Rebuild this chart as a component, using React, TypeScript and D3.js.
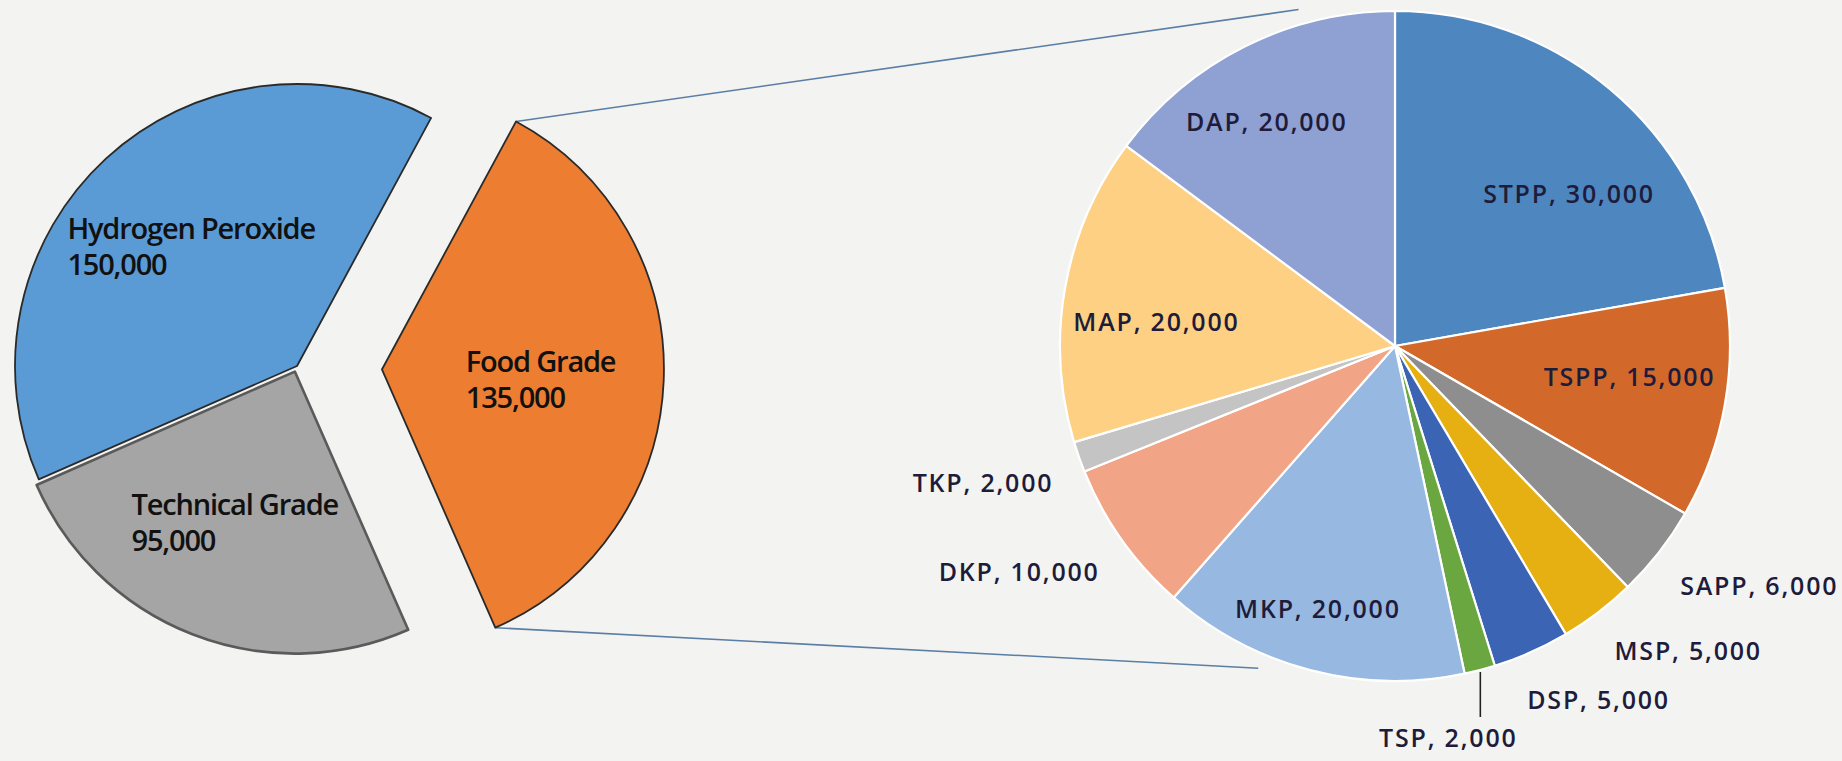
import React from "react";
import * as d3 from "d3";

// ---- data ----
const mainCategories = ["Food Grade", "Technical Grade", "Hydrogen Peroxide"];
const mainValues = [135000, 95000, 150000];
const mainColors = ["#ed7d31", "#a5a5a5", "#5b9bd5"];

const subCategories = ["STPP", "TSPP", "SAPP", "MSP", "DSP", "TSP", "MKP", "DKP", "TKP", "MAP", "DAP"];
const subValues = [30000, 15000, 6000, 5000, 5000, 2000, 20000, 10000, 2000, 20000, 20000];
const subColors = ["#4e86c0", "#d2692a", "#8e8e8e", "#e6b012", "#3c64b4", "#6aa740", "#97b8e0", "#f1a586", "#c4c4c4", "#fdd083", "#8fa0d3"];

// ---- layout ----
const W = 1842, H = 761;
const deg = Math.PI / 180;
const mainC = { x: 297, y: 366 };
const mainR = 282;
const mainStart = 28.4 * deg;
const explode: Record<string, number> = { "Food Grade": 85, "Technical Grade": 6, "Hydrogen Peroxide": 0 };
const mainLabelNudge: Record<string, [number, number]> = {
  "Hydrogen Peroxide": [-134, -23],
  "Technical Grade": [-112, 12],
  "Food Grade": [-57, -3],
};
const subC = { x: 1395, y: 346 };
const subR = 335;
const insideSet = new Set(["STPP", "TSPP", "MKP", "MAP", "DAP"]);
const insideNudge: Record<string, [number, number]> = {
  STPP: [19, 42], TSPP: [-3, -2], MKP: [-16, 39], MAP: [-1, 27], DAP: [-20, 1],
};
const outsideNudge: Record<string, [number, number]> = { DSP: [-15, 6] };

const polar = (cx: number, cy: number, a: number, r: number): [number, number] => [
  cx + r * Math.sin(a),
  cy - r * Math.cos(a),
];
const fmt = d3.format(",");

export default function App() {
  const mainPie = d3
    .pie<number>()
    .sort(null)
    .startAngle(mainStart)
    .endAngle(mainStart + 2 * Math.PI)(mainValues);
  const mainArc = d3.arc<d3.PieArcDatum<number>>().innerRadius(0).outerRadius(mainR);

  const subPie = d3.pie<number>().sort(null).startAngle(0).endAngle(2 * Math.PI)(subValues);
  const subArc = d3.arc<d3.PieArcDatum<number>>().innerRadius(0).outerRadius(subR);

  const mainSlices = mainPie.map((d, i) => {
    const name = mainCategories[i];
    const mid = (d.startAngle + d.endAngle) / 2;
    const [ox, oy] = polar(0, 0, mid, explode[name]);
    return { d, i, name, ox, oy, mid };
  });

  const food = mainSlices[0];
  const fcx = mainC.x + food.ox, fcy = mainC.y + food.oy;
  const topStart = polar(fcx, fcy, food.d.startAngle, mainR);
  const botStart = polar(fcx, fcy, food.d.endAngle, mainR);
  const topEnd = polar(subC.x, subC.y, -16 * deg, subR + 15);
  const botEnd = polar(subC.x, subC.y, 203 * deg, subR + 15);

  const labelFont = "'Open Sans', 'Noto Sans', sans-serif";

  return (
    <svg width={W} height={H} style={{ position: "fixed", left: 0, top: 0 }} xmlns="http://www.w3.org/2000/svg">
      <rect x={0} y={0} width={W} height={H} fill="#f3f3f1" />

      {/* connector lines */}
      <line x1={topStart[0]} y1={topStart[1]} x2={topEnd[0]} y2={topEnd[1]} stroke="#5a7ea6" strokeWidth={1.6} />
      <line x1={botStart[0]} y1={botStart[1]} x2={botEnd[0]} y2={botEnd[1]} stroke="#5a7ea6" strokeWidth={1.6} />

      {/* main pie */}
      <g transform={`translate(${mainC.x},${mainC.y})`}>
        {mainSlices.map((s) => (
          <path
            key={s.name}
            d={mainArc(s.d) || ""}
            transform={`translate(${s.ox},${s.oy})`}
            fill={mainColors[s.i]}
            stroke={s.name === "Technical Grade" ? "#5a5a5a" : "#2a2a2a"}
            strokeWidth={s.name === "Technical Grade" ? 2.6 : 1.8}
            strokeLinejoin="round"
          />
        ))}
      </g>
      {mainSlices.map((s) => {
        const c = mainArc.centroid(s.d);
        const nx = mainLabelNudge[s.name][0];
        const ny = mainLabelNudge[s.name][1];
        const x = mainC.x + s.ox + c[0] + nx;
        const y = mainC.y + s.oy + c[1] + ny;
        return (
          <text key={s.name} x={x} y={y} fontFamily={labelFont} fontWeight={600} fontSize={29} letterSpacing={-1.2} fill="#111">
            <tspan x={x} y={y}>{s.name}</tspan>
            <tspan x={x} y={y + 36}>{fmt(mainValues[s.i])}</tspan>
          </text>
        );
      })}

      {/* sub pie */}
      <g transform={`translate(${subC.x},${subC.y})`}>
        {subPie.map((d, i) => (
          <path key={subCategories[i]} d={subArc(d) || ""} fill={subColors[i]} stroke="#ffffff" strokeWidth={2.2} strokeLinejoin="round" />
        ))}
      </g>
      {subPie.map((d, i) => {
        const name = subCategories[i];
        const text = `${name}, ${fmt(subValues[i])}`;
        const mid = (d.startAngle + d.endAngle) / 2;
        const common = { fontFamily: labelFont, fontWeight: 600, fontSize: 25, letterSpacing: 1.8, fill: "#1e1c3a" } as const;
        if (insideSet.has(name)) {
          const [px, py] = polar(subC.x, subC.y, mid, subR * 0.72);
          const [nx, ny] = insideNudge[name];
          return (
            <text key={name} x={px + nx} y={py + ny} textAnchor="middle" {...common}>
              {text}
            </text>
          );
        }
        if (name === "TSP") {
          const [lx, ly] = polar(subC.x, subC.y, mid, subR + 2);
          return (
            <g key={name}>
              <line x1={lx} y1={ly} x2={lx} y2={ly + 45} stroke="#222" strokeWidth={1.6} />
              <text x={lx - 32} y={ly + 75} textAnchor="middle" {...common}>
                {text}
              </text>
            </g>
          );
        }
        const [px, py] = polar(subC.x, subC.y, mid, subR + 27);
        const nudge = outsideNudge[name] || [0, 0];
        const anchor = Math.sin(mid) >= 0 ? "start" : "end";
        return (
          <text key={name} x={px + nudge[0]} y={py + 26 + nudge[1]} textAnchor={anchor} {...common}>
            {text}
          </text>
        );
      })}
    </svg>
  );
}
